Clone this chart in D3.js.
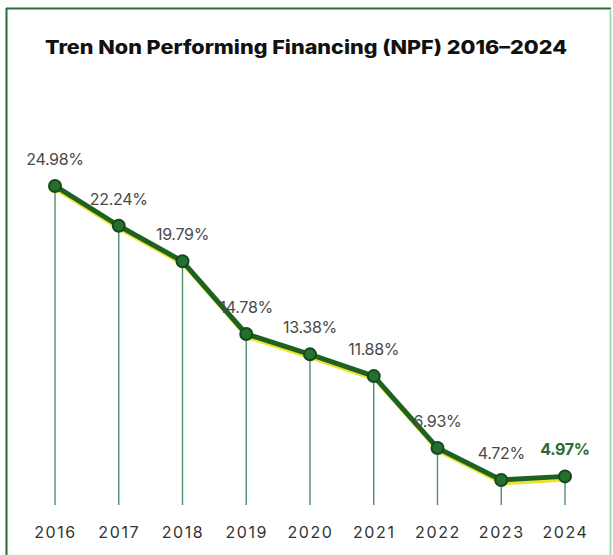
<!DOCTYPE html>
<html><head><meta charset="utf-8">
<script src="https://cdn.jsdelivr.net/npm/d3@7"></script>
<style>html,body{margin:0;padding:0;background:#fff;}svg{display:block;}</style>
</head><body>
<svg id="c" width="613" height="555"></svg>
<script>
const years = ["2016","2017","2018","2019","2020","2021","2022","2023","2024"];
const npf = [24.98, 22.24, 19.79, 14.78, 13.38, 11.88, 6.93, 4.72, 4.97];
const valueLabels = ["24.98%","22.24%","19.79%","14.78%","13.38%","11.88%","6.93%","4.72%","4.97%"];
const title = "Tren Non Performing Financing (NPF) 2016–2024";

const svg = d3.select("#c");
const W = 613, H = 555;

// frame
svg.append("rect").attr("x",0).attr("y",0).attr("width",W).attr("height",H).attr("fill","#fff");
svg.append("line").attr("x1",6).attr("x2",611).attr("y1",8.5).attr("y2",8.5).attr("stroke","#2e6b3a").attr("stroke-width",2);
svg.append("line").attr("x1",6.5).attr("x2",6.5).attr("y1",8).attr("y2",H).attr("stroke","#2e6b3a").attr("stroke-width",2);
svg.append("line").attr("x1",610.5).attr("x2",610.5).attr("y1",9).attr("y2",H).attr("stroke","#9fe0a8").attr("stroke-width",2);

svg.append("text").attr("x",306).attr("y",54).attr("text-anchor","middle")
  .attr("font-family","Inter, 'Open Sans', sans-serif").attr("font-weight",800).attr("font-size",19)
  .attr("fill","#111").attr("textLength",522).attr("lengthAdjust","spacingAndGlyphs").text(title);

const x = d3.scalePoint().domain(years).range([55,565]);
const y = d3.scaleLinear().domain([0,25]).range([548.5,185.7]);
const baseY = 505;

// drop lines
svg.append("g").selectAll("line").data(years).join("line")
  .attr("x1",d=>x(d)).attr("x2",d=>x(d))
  .attr("y1",(d,i)=>y(npf[i])).attr("y2",baseY)
  .attr("stroke","#4f8f68").attr("stroke-width",1.4);

// x axis labels
const xAxis = d3.axisBottom(x).tickSize(0).tickPadding(0);
const gx = svg.append("g").attr("transform",`translate(0,${baseY})`).call(xAxis);
gx.select(".domain").remove();
gx.selectAll("text").attr("y",33).attr("dy",0)
  .attr("font-family","Inter, 'Open Sans', sans-serif").attr("font-size",16).attr("font-weight",400)
  .attr("letter-spacing",1.6).attr("fill","#333");

const pts = years.map((d,i)=>[x(d), y(npf[i])]);
const line = d3.line();
svg.append("path").attr("d",line(pts.map(p=>[p[0]+1.5,p[1]+3]))).attr("fill","none")
  .attr("stroke","#f0e030").attr("stroke-width",4.5).attr("stroke-linejoin","round");
svg.append("path").attr("d",line(pts)).attr("fill","none")
  .attr("stroke","#1d6220").attr("stroke-width",5).attr("stroke-linejoin","round");

svg.append("g").selectAll("circle").data(pts).join("circle")
  .attr("cx",d=>d[0]).attr("cy",d=>d[1]).attr("r",6)
  .attr("fill","#25702f").attr("stroke","#164a1a").attr("stroke-width",2);

svg.append("g").selectAll("text").data(years).join("text")
  .attr("x",d=>x(d)).attr("y",(d,i)=>y(npf[i])-21)
  .attr("text-anchor","middle")
  .attr("font-family","Inter, 'Open Sans', sans-serif")
  .attr("font-size",16)
  .attr("font-weight",(d,i)=>i===years.length-1?700:400)
  .attr("fill",(d,i)=>i===years.length-1?"#2e6b34":"#4a4a4a")
  .attr("letter-spacing",-0.3)
  .text((d,i)=>valueLabels[i]);
</script>
</body></html>
